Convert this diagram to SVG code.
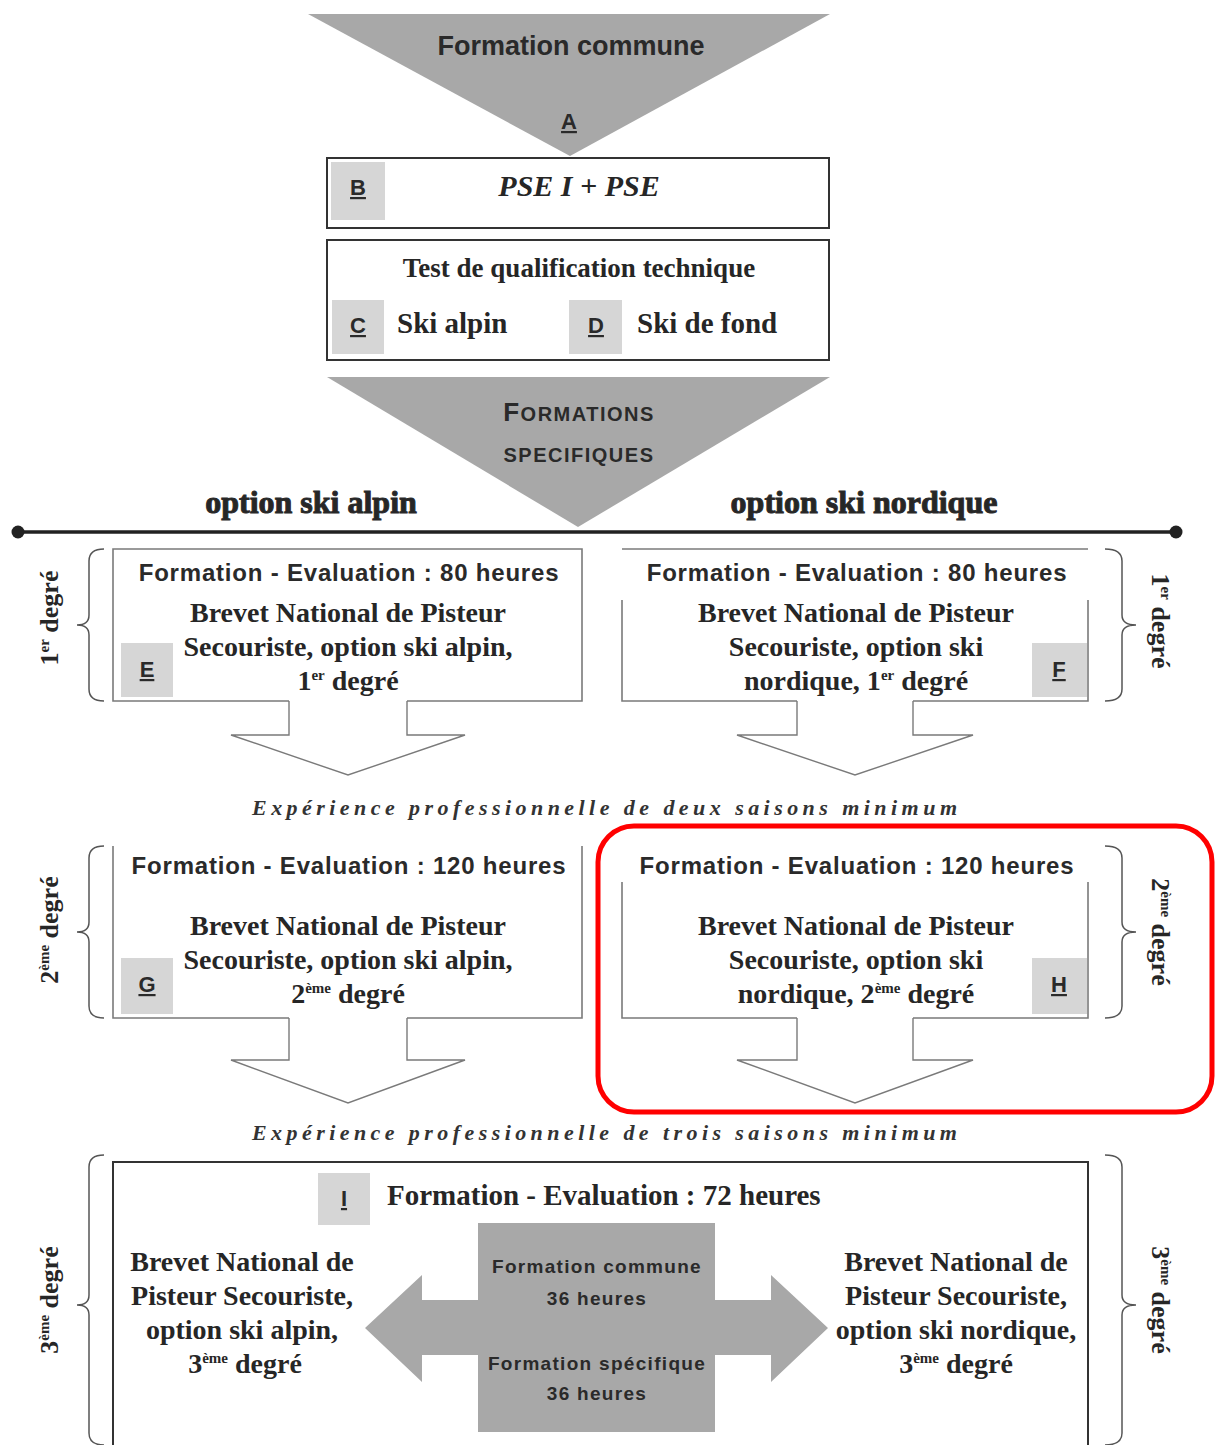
<svg xmlns="http://www.w3.org/2000/svg" width="1215" height="1445" viewBox="0 0 1215 1445">
<style>
.sans{font-family:"Liberation Sans",Arial,sans-serif;font-weight:bold;fill:#2a2a2a}
.serif{font-family:"Liberation Serif","Times New Roman",serif;font-weight:bold;fill:#262626}
.hdr{font-size:24px;letter-spacing:0.8px}
.body{font-size:28px}
.lbl{font-size:22px;text-decoration:underline}
.exp{font-family:"Liberation Serif","Times New Roman",serif;font-style:italic;font-weight:bold;font-size:22px;fill:#333}
.rot{font-size:26px}
.box{fill:none;stroke:#7a7a7a;stroke-width:1.6}
.dbox{fill:none;stroke:#333;stroke-width:2}
.sq{fill:#d6d6d6}
.grey{fill:#a8a8a8}
.brace{fill:none;stroke:#555;stroke-width:1.5}
.arr{fill:#fff;stroke:#7a7a7a;stroke-width:1.4;stroke-linejoin:miter}
.sup{font-size:15px}
.mid{font-size:19px;letter-spacing:1.3px}
</style>
<rect width="1215" height="1445" fill="#fff"/>

<g id="formation-commune">
<polygon class="grey" points="308,14 830,14 570,156"/>
<text class="sans" x="571" y="55" font-size="27" text-anchor="middle">Formation commune</text>
<text class="sans lbl" x="569" y="129" font-size="24" text-anchor="middle">A</text>
</g>

<g id="node-B">
<rect class="dbox" x="327" y="158" width="502" height="70"/>
<rect class="sq" x="331" y="162" width="54" height="58"/>
<text class="sans lbl" x="358" y="195" text-anchor="middle">B</text>
<text class="serif" x="579" y="196" font-size="30" font-style="italic" text-anchor="middle">PSE I + PSE</text>
</g>

<g id="node-CD">
<rect class="dbox" x="327" y="240" width="502" height="120"/>
<text class="serif" x="579" y="277" font-size="27" text-anchor="middle">Test de qualification technique</text>
<rect class="sq" x="332" y="300" width="52" height="54"/>
<text class="sans lbl" x="358" y="333" text-anchor="middle">C</text>
<text class="serif" x="397" y="333" font-size="29">Ski alpin</text>
<rect class="sq" x="569" y="300" width="53" height="54"/>
<text class="sans lbl" x="596" y="333" text-anchor="middle">D</text>
<text class="serif" x="637" y="333" font-size="29">Ski de fond</text>
</g>

<g id="formations-specifiques">
<polygon class="grey" points="327,377 830,377 578,527"/>
<text class="sans" x="579" y="421" text-anchor="middle" letter-spacing="1.5"><tspan font-size="26">F</tspan><tspan font-size="20">ORMATIONS</tspan></text>
<text class="sans" x="579" y="462" font-size="20" letter-spacing="1.5" text-anchor="middle">SPECIFIQUES</text>
</g>

<g id="options">
<text class="serif" x="311" y="513" font-size="32" stroke="#2a2a2a" stroke-width="1" text-anchor="middle">option ski alpin</text>
<text class="serif" x="864" y="513" font-size="32" stroke="#2a2a2a" stroke-width="1" text-anchor="middle">option ski nordique</text>
<line x1="18" y1="532" x2="1176" y2="532" stroke="#222" stroke-width="3.5"/>
<circle cx="18" cy="532" r="6.5" fill="#222"/>
<circle cx="1176" cy="532" r="6.5" fill="#222"/>
</g>

<g id="node-E">
<path class="box" d="M289,701 H113 V549 H582 V701 H407"/>
<text class="sans hdr" x="349" y="581" text-anchor="middle">Formation - Evaluation : 80 heures</text>
<text class="serif body" x="348" y="622" text-anchor="middle">Brevet National de Pisteur</text>
<text class="serif body" x="348" y="656" text-anchor="middle">Secouriste, option ski alpin,</text>
<text class="serif body" x="348" y="690" text-anchor="middle">1<tspan class="sup" dy="-10">er</tspan><tspan dy="10"> degré</tspan></text>
<rect class="sq" x="121" y="643" width="52" height="54"/>
<text class="sans lbl" x="147" y="677" text-anchor="middle">E</text>
</g>

<g id="node-F">
<path class="box" d="M622,549 H1088"/>
<path class="box" d="M797,701 H622 V600 M913,701 H1088 V600"/>
<text class="sans hdr" x="857" y="581" text-anchor="middle">Formation - Evaluation : 80 heures</text>
<text class="serif body" x="856" y="622" text-anchor="middle">Brevet National de Pisteur</text>
<text class="serif body" x="856" y="656" text-anchor="middle">Secouriste, option ski</text>
<text class="serif body" x="856" y="690" text-anchor="middle">nordique, 1<tspan class="sup" dy="-10">er</tspan><tspan dy="10"> degré</tspan></text>
<rect class="sq" x="1032" y="643" width="55" height="54"/>
<text class="sans lbl" x="1059" y="677" text-anchor="middle">F</text>
</g>

<text class="exp" x="252" y="815" textLength="705" lengthAdjust="spacing">Expérience professionnelle de deux saisons minimum</text>

<g id="node-G">
<path class="box" d="M289,1018 H113 V846 M407,1018 H582 V846"/>
<text class="sans hdr" x="349" y="874" text-anchor="middle">Formation - Evaluation : 120 heures</text>
<text class="serif body" x="348" y="935" text-anchor="middle">Brevet National de Pisteur</text>
<text class="serif body" x="348" y="969" text-anchor="middle">Secouriste, option ski alpin,</text>
<text class="serif body" x="348" y="1003" text-anchor="middle">2<tspan class="sup" dy="-10">ème</tspan><tspan dy="10"> degré</tspan></text>
<rect class="sq" x="121" y="958" width="52" height="56"/>
<text class="sans lbl" x="147" y="992" text-anchor="middle">G</text>
</g>

<g id="node-H">
<path class="box" d="M797,1018 H622 V882 M913,1018 H1088 V882"/>
<text class="sans hdr" x="857" y="874" text-anchor="middle">Formation - Evaluation : 120 heures</text>
<text class="serif body" x="856" y="935" text-anchor="middle">Brevet National de Pisteur</text>
<text class="serif body" x="856" y="969" text-anchor="middle">Secouriste, option ski</text>
<text class="serif body" x="856" y="1003" text-anchor="middle">nordique, 2<tspan class="sup" dy="-10">ème</tspan><tspan dy="10"> degré</tspan></text>
<rect class="sq" x="1032" y="958" width="55" height="56"/>
<text class="sans lbl" x="1059" y="992" text-anchor="middle">H</text>
</g>

<text class="exp" x="252" y="1140" textLength="705" lengthAdjust="spacing">Expérience professionnelle de trois saisons minimum</text>

<g id="node-I">
<rect class="dbox" x="113" y="1162" width="975" height="300"/>
<rect class="sq" x="318" y="1173" width="52" height="52"/>
<text class="sans lbl" x="344" y="1206" text-anchor="middle">I</text>
<text class="serif" x="387" y="1205" font-size="29">Formation - Evaluation : 72 heures</text>
</g>

<g id="connectors">
<path class="arr" d="M289,701 V735 H231 L348,775 L465,735 H407 V701"/>
<path class="arr" d="M797,701 V735 H737 L855,775 L973,735 H913 V701"/>
<path class="arr" d="M289,1018 V1060 H231 L348,1103 L465,1060 H407 V1018"/>
<path class="arr" d="M797,1018 V1060 H737 L855,1103 L973,1060 H913 V1018"/>
<polygon class="grey" points="478,1300 422,1300 422,1275 365,1328 422,1382 422,1355 478,1355"/>
<polygon class="grey" points="715,1300 771,1300 771,1275 828,1328 771,1382 771,1355 715,1355"/>
</g>

<g id="node-central">
<rect class="grey" x="478" y="1223" width="237" height="209"/>
<text class="sans mid" x="597" y="1273" text-anchor="middle">Formation commune</text>
<text class="sans mid" x="597" y="1305" text-anchor="middle">36 heures</text>
<text class="sans mid" x="597" y="1370" text-anchor="middle">Formation spécifique</text>
<text class="sans mid" x="597" y="1400" text-anchor="middle">36 heures</text>
</g>

<rect id="highlight" x="598" y="826" width="614" height="286" rx="36" fill="none" stroke="#ff0000" stroke-width="5"/>

<g id="node-alpin-3">
<text class="serif body" x="242" y="1271" text-anchor="middle">Brevet National de</text>
<text class="serif body" x="242" y="1305" text-anchor="middle">Pisteur Secouriste,</text>
<text class="serif body" x="242" y="1339" text-anchor="middle">option ski alpin,</text>
<text class="serif body" x="245" y="1373" text-anchor="middle">3<tspan class="sup" dy="-10">ème</tspan><tspan dy="10"> degré</tspan></text>
</g>

<g id="node-nordique-3">
<text class="serif body" x="956" y="1271" text-anchor="middle">Brevet National de</text>
<text class="serif body" x="956" y="1305" text-anchor="middle">Pisteur Secouriste,</text>
<text class="serif body" x="956" y="1339" text-anchor="middle">option ski nordique,</text>
<text class="serif body" x="956" y="1373" text-anchor="middle">3<tspan class="sup" dy="-10">ème</tspan><tspan dy="10"> degré</tspan></text>
</g>

<g id="degres">
<path class="brace" d="M104,549 Q89,549 89,561 V615 Q89,625 77,625 Q89,625 89,635 V689 Q89,701 104,701"/>
<path class="brace" d="M104,846 Q89,846 89,858 V922 Q89,932 77,932 Q89,932 89,942 V1006 Q89,1018 104,1018"/>
<path class="brace" d="M104,1155 Q89,1155 89,1167 V1295 Q89,1305 77,1305 Q89,1305 89,1315 V1433 Q89,1445 104,1445"/>
<path class="brace" d="M1105,549 Q1122,549 1122,561 V615 Q1122,625 1136,625 Q1122,625 1122,635 V689 Q1122,701 1105,701"/>
<path class="brace" d="M1105,846 Q1122,846 1122,858 V922 Q1122,932 1136,932 Q1122,932 1122,942 V1006 Q1122,1018 1105,1018"/>
<path class="brace" d="M1105,1155 Q1122,1155 1122,1167 V1295 Q1122,1305 1136,1305 Q1122,1305 1122,1315 V1433 Q1122,1445 1105,1445"/>
<text class="serif rot" transform="translate(58,618) rotate(-90)" text-anchor="middle">1<tspan class="sup" dy="-9">er</tspan><tspan dy="9"> degré</tspan></text>
<text class="serif rot" transform="translate(58,930) rotate(-90)" text-anchor="middle">2<tspan class="sup" dy="-9">ème</tspan><tspan dy="9"> degré</tspan></text>
<text class="serif rot" transform="translate(58,1300) rotate(-90)" text-anchor="middle">3<tspan class="sup" dy="-9">ème</tspan><tspan dy="9"> degré</tspan></text>
<text class="serif rot" transform="translate(1152,621) rotate(90)" text-anchor="middle">1<tspan class="sup" dy="-9">er</tspan><tspan dy="9"> degré</tspan></text>
<text class="serif rot" transform="translate(1152,932) rotate(90)" text-anchor="middle">2<tspan class="sup" dy="-9">ème</tspan><tspan dy="9"> degré</tspan></text>
<text class="serif rot" transform="translate(1152,1300) rotate(90)" text-anchor="middle">3<tspan class="sup" dy="-9">ème</tspan><tspan dy="9"> degré</tspan></text>
</g>
</svg>
